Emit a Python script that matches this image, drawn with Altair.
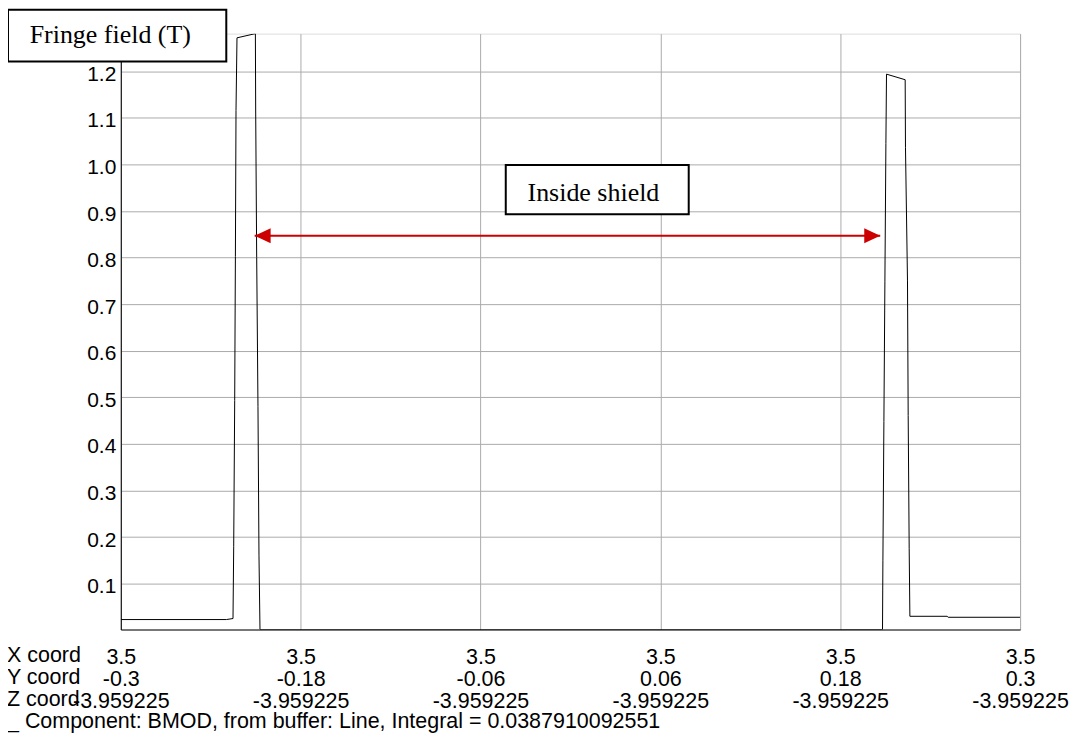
import json
import altair as alt
import pandas as pd

# ---- data ----
# position along the line (Y coord, m) and field magnitude BMOD (T)
y_coord = [-0.3, -0.22953, -0.22513, -0.22467, -0.2240, -0.22353, -0.22313, -0.22247,
           -0.2102, -0.2100, -0.20933, -0.20847, -0.2078, -0.20713,
           0.2082, 0.20847, 0.20913, 0.2098, 0.21047, 0.21087, 0.22333, 0.22353,
           0.22487, 0.22533, 0.2260, 0.22647, 0.25133, 0.252, 0.3]
bmod = [0.0228, 0.0228, 0.025, 0.179, 0.493, 0.802, 1.116, 1.272,
        1.281, 1.117, 0.80, 0.48, 0.161, 0.0014,
        0.0014, 0.149, 0.448, 0.748, 1.045, 1.194, 1.182, 1.037,
        0.75, 0.461, 0.176, 0.0298, 0.0298, 0.0277, 0.0277]

tick_pos = [-0.3, -0.18, -0.06, 0.06, 0.18, 0.3]
x_row = ["3.5", "3.5", "3.5", "3.5", "3.5", "3.5"]
y_row = ["-0.3", "-0.18", "-0.06", "0.06", "0.18", "0.3"]
z_row = ["-3.959225"] * 6
y_ticks = [0.1, 0.2, 0.3, 0.4, 0.5, 0.6, 0.7, 0.8, 0.9, 1.0, 1.1, 1.2]
y_domain = [0.0014, 1.281]

row_titles = ["X coord", "Y coord", "Z coord",
              "_ Component: BMOD, from buffer: Line, Integral = 0.0387910092551"]

arrow_x = [-0.21067, 0.20667]
arrow_y = [0.847, 0.847]
fringe_label = "Fringe field (T)"
shield_label = "Inside shield"

SANS = "Liberation Sans"
SERIF = "Liberation Serif"
RED = "#cc0000"
GRID = "#ababab"

W, H = 901, 597

df = pd.DataFrame({"ycoord": y_coord, "bmod": bmod, "i": list(range(len(y_coord)))})

rows = [[a, b, c] for a, b, c in zip(x_row, y_row, z_row)]
label_expr = f"{json.dumps(rows)}[indexof({json.dumps(tick_pos)}, datum.value)]"

x_scale = alt.Scale(domain=[-0.3, 0.3], nice=False, zero=False)
y_scale = alt.Scale(domain=y_domain, nice=False, zero=False)

x_axis = alt.Axis(values=tick_pos, labelExpr=label_expr, title=None,
                  grid=True, gridColor=GRID, gridWidth=1,
                  ticks=False, tickSize=0, domainColor="black", domainWidth=1,
                  labelFont=SANS, labelFontSize=21.5, labelColor="black",
                  labelAlign="center", labelBaseline="top", labelLineHeight=22,
                  labelPadding=17, labelFlush=False, labelOverlap=False)
y_axis = alt.Axis(values=y_ticks, format=".1f", title=None,
                  grid=True, gridColor=GRID, gridWidth=1,
                  ticks=False, tickSize=0, domainColor="black", domainWidth=1,
                  labelFont=SANS, labelFontSize=21, labelColor="black",
                  labelBaseline="middle", labelOffset=3, labelPadding=5,
                  labelFlush=False, labelOverlap=False)

line = alt.Chart(df).mark_line(color="black", strokeWidth=1, clip=True).encode(
    x=alt.X("ycoord:Q", scale=x_scale, axis=x_axis),
    y=alt.Y("bmod:Q", scale=y_scale, axis=y_axis),
    order="i:Q",
)

arrow_df = pd.DataFrame({"x": [arrow_x[0]], "x2": [arrow_x[1]], "y": [arrow_y[0]]})
arrow_line = alt.Chart(arrow_df).mark_rule(color=RED, strokeWidth=2).encode(
    x=alt.X("x:Q", scale=x_scale), x2="x2:Q", y=alt.Y("y:Q", scale=y_scale))

heads_df = pd.DataFrame({"x": arrow_x, "y": arrow_y, "dir": ["left", "right"]})
head_left = alt.Chart(heads_df[heads_df.dir == "left"]).mark_point(
    shape="M0,0L2,-0.95L2,0.95Z", filled=True, color=RED, opacity=1, size=256, strokeWidth=0
).encode(x=alt.X("x:Q", scale=x_scale), y=alt.Y("y:Q", scale=y_scale))
head_right = alt.Chart(heads_df[heads_df.dir == "right"]).mark_point(
    shape="M0,0L-2,-0.95L-2,0.95Z", filled=True, color=RED, opacity=1, size=256, strokeWidth=0
).encode(x=alt.X("x:Q", scale=x_scale), y=alt.Y("y:Q", scale=y_scale))

one = pd.DataFrame({"k": [0]})

fringe_box = alt.Chart(one).mark_rect(fill="white", stroke="black", strokeWidth=2).encode(
    x=alt.value(-113), x2=alt.value(105.7), y=alt.value(-24), y2=alt.value(28))
fringe_text = alt.Chart(pd.DataFrame({"t": [fringe_label]})).mark_text(
    font=SERIF, fontSize=26, color="black", align="center", baseline="middle"
).encode(x=alt.value(-10.5), y=alt.value(1.5), text="t:N")

shield_box = alt.Chart(one).mark_rect(fill="white", stroke="black", strokeWidth=2).encode(
    x=alt.value(385.7), x2=alt.value(569), y=alt.value(131.7), y2=alt.value(181))
shield_text = alt.Chart(pd.DataFrame({"t": [shield_label]})).mark_text(
    font=SERIF, fontSize=26, color="black", align="center", baseline="middle"
).encode(x=alt.value(473.5), y=alt.value(159.5), text="t:N")

row_layers = []
for k, t in enumerate(row_titles):
    row_layers.append(
        alt.Chart(pd.DataFrame({"t": [t]})).mark_text(
            font=SANS, fontSize=21.5, color="black", align="left", baseline="middle"
        ).encode(x=alt.value(-114), y=alt.value(624 + 22 * k), text="t:N")
    )

chart = alt.layer(
    line, arrow_line, head_left, head_right,
    fringe_box, fringe_text, shield_box, shield_text, *row_layers
).properties(
    width=W, height=H,
    autosize=alt.AutoSizeParams(type="none"),
    padding={"left": 113, "top": 25, "right": 50, "bottom": 106},
).configure_view(stroke=None).configure(background="white")

chart.save("out.html", embed_options={"renderer": "svg", "actions": False})
